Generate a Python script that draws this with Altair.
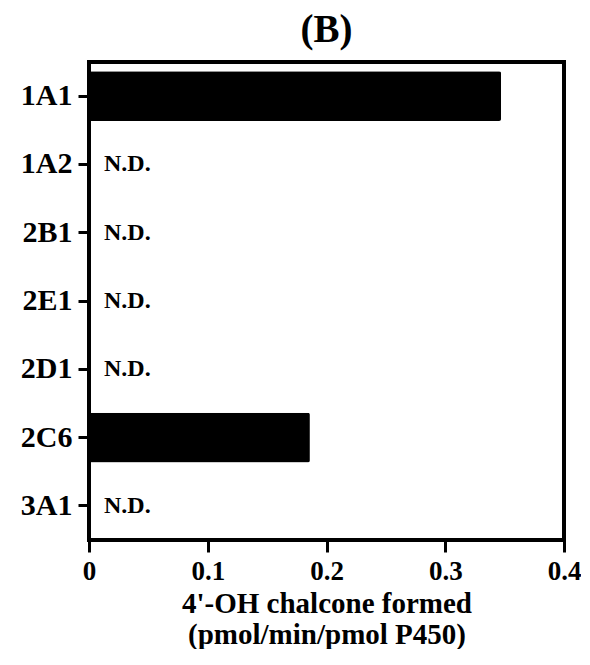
import altair as alt
import pandas as pd

categories = ["1A1", "1A2", "2B1", "2E1", "2D1", "2C6", "3A1"]
values = [0.347, None, None, None, None, 0.186, None]
x_ticks = [0, 0.1, 0.2, 0.3, 0.4]

df = pd.DataFrame({"enzyme": categories, "value": values})
df["nd"] = df["value"].isna()
df["label"] = ["N.D." if n else "" for n in df["nd"]]

FONT = "Liberation Serif"

y_enc = alt.Y("enzyme:N", sort=categories,
              scale=alt.Scale(paddingInner=0.27, paddingOuter=0.135),
              axis=alt.Axis(title=None, labelFont=FONT, labelFontSize=30,
                            labelFontWeight="bold", labelColor="black",
                            tickColor="black", tickWidth=3, tickSize=11,
                            labelPadding=6, domain=False))

x_enc = alt.X("value:Q",
              scale=alt.Scale(domain=[0, 0.4], nice=False),
              axis=alt.Axis(values=x_ticks, grid=False,
                            labelExpr="datum.value == 0 ? '0' : format(datum.value, '.1f')",
                            title=["4'-OH chalcone formed", "(pmol/min/pmol P450)"],
                            titleFont=FONT, titleFontSize=29, titleFontWeight="bold",
                            titleColor="black", titlePadding=5, titleLineHeight=31,
                            labelFont=FONT, labelFontSize=27, labelFontWeight="bold",
                            labelColor="black", labelPadding=6,
                            tickColor="black", tickWidth=3, tickSize=12,
                            domain=False, labelFlush=False))

bars = alt.Chart(df).transform_filter("datum.value != null").mark_bar(
    color="black", cornerRadius=2
).encode(y=y_enc, x=x_enc)

nd = alt.Chart(df).transform_filter("datum.nd").transform_calculate(
    zero="0"
).mark_text(
    align="left", baseline="middle", dx=15, font=FONT, fontSize=24,
    fontWeight="bold", color="black"
).encode(
    y=alt.Y("enzyme:N", sort=categories),
    x=alt.X("zero:Q"),
    text="label:N",
)

chart = alt.layer(bars, nd).properties(
    width=475, height=478,
    background="white",
    title=alt.Title("(B)", font=FONT, fontSize=39, fontWeight="bold",
                    color="black", offset=12),
    padding={"left": 12, "top": 3, "right": 0, "bottom": 0},
).configure_view(
    stroke="black", strokeWidth=4
)

chart.save("out.html", embed_options={"renderer": "svg", "actions": False})
